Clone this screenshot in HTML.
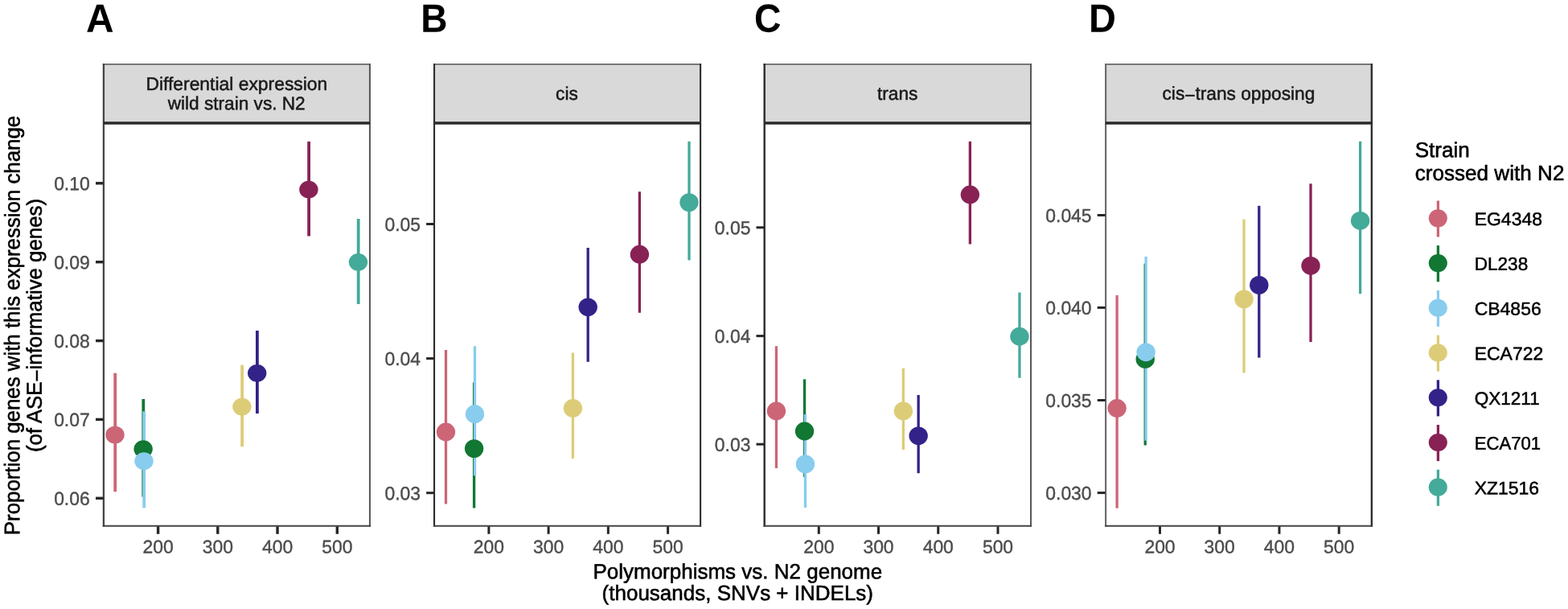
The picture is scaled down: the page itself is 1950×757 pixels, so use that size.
<!DOCTYPE html>
<html lang="en"><head><meta charset="utf-8"><title>Expression change vs. polymorphisms</title>
<style>
html,body{margin:0;padding:0;background:#fff;}
body{width:1950px;height:757px;overflow:hidden;}
svg{display:block;}
text{font-family:"Liberation Sans", sans-serif;text-rendering:geometricPrecision;}
.tick{font-size:22.9px;fill:#4d4d4d;stroke:#4d4d4d;stroke-width:0.4px;}
.strip{font-size:22.7px;fill:#1a1a1a;stroke:#1a1a1a;stroke-width:0.5px;text-anchor:middle;}
.ttl{font-size:26.0px;fill:#000;stroke:#000;stroke-width:0.55px;}
.leg{font-size:22.7px;fill:#000;stroke:#000;stroke-width:0.5px;}
.tag{font-size:49.3px;font-weight:bold;fill:#000;}
</style></head><body>
<svg width="1950" height="757" viewBox="0 0 1950 757">
<rect x="0" y="0" width="1950" height="757" fill="#ffffff"/>
<g>
<text class="tag" transform="translate(107.07 39.8) rotate(0.03) scale(0.9716 1)">A</text>
<rect x="128.9" y="79.9" width="331.05" height="73" fill="#d9d9d9"/>
<line x1="127.75" y1="79.9" x2="460.97" y2="79.9" stroke="#686868" stroke-width="1.9"/>
<text class="strip" transform="translate(294.35 112) rotate(0.03) scale(1.008 1.01)">Differential expression</text>
<text class="strip" transform="translate(294.2 136.15) rotate(0.03) scale(0.997 1.01)">wild strain vs. N2</text>
<line x1="143.2" y1="463.8" x2="143.2" y2="611.2" stroke="#CC6677" stroke-width="3.8"/>
<line x1="178.3" y1="496" x2="178.3" y2="617.5" stroke="#117733" stroke-width="3.8"/>
<line x1="179.2" y1="511.3" x2="179.2" y2="631.3" stroke="#88CCEE" stroke-width="3.8"/>
<line x1="301.1" y1="453.7" x2="301.1" y2="555.2" stroke="#DDCC77" stroke-width="3.8"/>
<line x1="319.9" y1="411" x2="319.9" y2="514" stroke="#332288" stroke-width="3.8"/>
<line x1="384.1" y1="175.9" x2="384.1" y2="293.5" stroke="#882255" stroke-width="3.8"/>
<line x1="445.7" y1="272" x2="445.7" y2="378" stroke="#44AA99" stroke-width="3.8"/>
<ellipse cx="143" cy="540.5" rx="11.7" ry="10.85" fill="#CC6677"/>
<ellipse cx="178.1" cy="558.2" rx="11.7" ry="10.85" fill="#117733"/>
<ellipse cx="179" cy="573.2" rx="11.7" ry="10.85" fill="#88CCEE"/>
<ellipse cx="300.9" cy="505.6" rx="11.7" ry="10.85" fill="#DDCC77"/>
<ellipse cx="319.7" cy="463.8" rx="11.7" ry="10.85" fill="#332288"/>
<ellipse cx="383.9" cy="235.7" rx="11.7" ry="10.85" fill="#882255"/>
<ellipse cx="445.5" cy="325.8" rx="11.7" ry="10.85" fill="#44AA99"/>
<line x1="128.9" y1="78.95" x2="128.9" y2="654.7" stroke="#444444" stroke-width="2.3"/>
<line x1="459.95" y1="78.95" x2="459.95" y2="654.7" stroke="#585858" stroke-width="2.05"/>
<line x1="127.75" y1="653.7" x2="460.97" y2="653.7" stroke="#444444" stroke-width="2"/>
<line x1="128.6" y1="152.9" x2="460.25" y2="152.9" stroke="#2a2a2a" stroke-width="3.5"/>
<line x1="119" y1="227.8" x2="128.4" y2="227.8" stroke="#262626" stroke-width="3.4"/>
<text class="tick" text-anchor="end" transform="translate(111.7 236.25) rotate(0.03) scale(1 1.015)">0.10</text>
<line x1="119" y1="325.7" x2="128.4" y2="325.7" stroke="#262626" stroke-width="3.4"/>
<text class="tick" text-anchor="end" transform="translate(111.7 334.15) rotate(0.03) scale(1 1.015)">0.09</text>
<line x1="119" y1="423.6" x2="128.4" y2="423.6" stroke="#262626" stroke-width="3.4"/>
<text class="tick" text-anchor="end" transform="translate(111.7 432.05) rotate(0.03) scale(1 1.015)">0.08</text>
<line x1="119" y1="521.4" x2="128.4" y2="521.4" stroke="#262626" stroke-width="3.4"/>
<text class="tick" text-anchor="end" transform="translate(111.7 529.85) rotate(0.03) scale(1 1.015)">0.07</text>
<line x1="119" y1="619.3" x2="128.4" y2="619.3" stroke="#262626" stroke-width="3.4"/>
<text class="tick" text-anchor="end" transform="translate(111.7 627.75) rotate(0.03) scale(1 1.015)">0.06</text>
<line x1="196.6" y1="654.4" x2="196.6" y2="663.8" stroke="#262626" stroke-width="3.4"/>
<text class="tick" text-anchor="middle" transform="translate(196.6 687.4) rotate(0.03) scale(1 1)">200</text>
<line x1="270.8" y1="654.4" x2="270.8" y2="663.8" stroke="#262626" stroke-width="3.4"/>
<text class="tick" text-anchor="middle" transform="translate(270.8 687.4) rotate(0.03) scale(1 1)">300</text>
<line x1="345.05" y1="654.4" x2="345.05" y2="663.8" stroke="#262626" stroke-width="3.4"/>
<text class="tick" text-anchor="middle" transform="translate(345.05 687.4) rotate(0.03) scale(1 1)">400</text>
<line x1="419.3" y1="654.4" x2="419.3" y2="663.8" stroke="#262626" stroke-width="3.4"/>
<text class="tick" text-anchor="middle" transform="translate(419.3 687.4) rotate(0.03) scale(1 1)">500</text>
</g>
<g>
<text class="tag" transform="translate(523.16 39.8) rotate(0.03) scale(0.9338 1)">B</text>
<rect x="540.05" y="79.9" width="331.05" height="73" fill="#d9d9d9"/>
<line x1="539" y1="79.9" x2="872.15" y2="79.9" stroke="#686868" stroke-width="1.9"/>
<text class="strip" transform="translate(704.95 123.9) rotate(0.03) scale(1 1.01)">cis</text>
<line x1="554.5" y1="435" x2="554.5" y2="626.6" stroke="#CC6677" stroke-width="3.3"/>
<line x1="589.6" y1="475.5" x2="589.6" y2="631.5" stroke="#117733" stroke-width="3.3"/>
<line x1="590.5" y1="430.2" x2="590.5" y2="591.3" stroke="#88CCEE" stroke-width="3.3"/>
<line x1="712.4" y1="438.5" x2="712.4" y2="570" stroke="#DDCC77" stroke-width="3.3"/>
<line x1="731.2" y1="308" x2="731.2" y2="449.8" stroke="#332288" stroke-width="3.3"/>
<line x1="795.4" y1="238.3" x2="795.4" y2="388.7" stroke="#882255" stroke-width="3.3"/>
<line x1="857" y1="175.8" x2="857" y2="323.4" stroke="#44AA99" stroke-width="3.3"/>
<ellipse cx="554.5" cy="537" rx="11.7" ry="11.4" fill="#CC6677"/>
<ellipse cx="589.6" cy="557.6" rx="11.7" ry="11.4" fill="#117733"/>
<ellipse cx="590.5" cy="514.7" rx="11.7" ry="11.4" fill="#88CCEE"/>
<ellipse cx="712.4" cy="507.5" rx="11.7" ry="11.4" fill="#DDCC77"/>
<ellipse cx="731.2" cy="381.8" rx="11.7" ry="11.4" fill="#332288"/>
<ellipse cx="795.4" cy="316.2" rx="11.7" ry="11.4" fill="#882255"/>
<ellipse cx="857" cy="251.6" rx="11.7" ry="11.4" fill="#44AA99"/>
<line x1="540.05" y1="78.95" x2="540.05" y2="654.7" stroke="#2c2c2c" stroke-width="2.1"/>
<line x1="871.1" y1="78.95" x2="871.1" y2="654.7" stroke="#2e2e2e" stroke-width="2.1"/>
<line x1="539" y1="653.7" x2="872.15" y2="653.7" stroke="#444444" stroke-width="2"/>
<line x1="539.75" y1="152.9" x2="871.4" y2="152.9" stroke="#2a2a2a" stroke-width="3.5"/>
<line x1="530.1" y1="278.5" x2="539.55" y2="278.5" stroke="#262626" stroke-width="3.0"/>
<text class="tick" text-anchor="end" transform="translate(523 286.95) rotate(0.03) scale(1 1.015)">0.05</text>
<line x1="530.1" y1="445.6" x2="539.55" y2="445.6" stroke="#262626" stroke-width="3.0"/>
<text class="tick" text-anchor="end" transform="translate(523 454.05) rotate(0.03) scale(1 1.015)">0.04</text>
<line x1="530.1" y1="612.7" x2="539.55" y2="612.7" stroke="#262626" stroke-width="3.0"/>
<text class="tick" text-anchor="end" transform="translate(523 621.15) rotate(0.03) scale(1 1.015)">0.03</text>
<line x1="607.9" y1="654.4" x2="607.9" y2="663.8" stroke="#262626" stroke-width="3.0"/>
<text class="tick" text-anchor="middle" transform="translate(607.9 687.4) rotate(0.03) scale(1 1)">200</text>
<line x1="682.1" y1="654.4" x2="682.1" y2="663.8" stroke="#262626" stroke-width="3.0"/>
<text class="tick" text-anchor="middle" transform="translate(682.1 687.4) rotate(0.03) scale(1 1)">300</text>
<line x1="756.35" y1="654.4" x2="756.35" y2="663.8" stroke="#262626" stroke-width="3.0"/>
<text class="tick" text-anchor="middle" transform="translate(756.35 687.4) rotate(0.03) scale(1 1)">400</text>
<line x1="830.6" y1="654.4" x2="830.6" y2="663.8" stroke="#262626" stroke-width="3.0"/>
<text class="tick" text-anchor="middle" transform="translate(830.6 687.4) rotate(0.03) scale(1 1)">500</text>
</g>
<g>
<text class="tag" transform="translate(938.04 39.8) rotate(0.03) scale(0.94 1)">C</text>
<rect x="950.7" y="79.9" width="331.3" height="73" fill="#d9d9d9"/>
<line x1="949.5" y1="79.9" x2="1283" y2="79.9" stroke="#686868" stroke-width="1.9"/>
<text class="strip" transform="translate(1116.2 123.9) rotate(0.03) scale(1 1.01)">trans</text>
<line x1="965.45" y1="430.2" x2="965.45" y2="582" stroke="#CC6677" stroke-width="3.3"/>
<line x1="1000.55" y1="471.4" x2="1000.55" y2="593" stroke="#117733" stroke-width="3.3"/>
<line x1="1001.45" y1="515" x2="1001.45" y2="631.1" stroke="#88CCEE" stroke-width="3.3"/>
<line x1="1123.35" y1="457.7" x2="1123.35" y2="559" stroke="#DDCC77" stroke-width="3.3"/>
<line x1="1142.15" y1="491" x2="1142.15" y2="588.2" stroke="#332288" stroke-width="3.3"/>
<line x1="1206.35" y1="175.8" x2="1206.35" y2="303.5" stroke="#882255" stroke-width="3.3"/>
<line x1="1267.95" y1="363.6" x2="1267.95" y2="469.7" stroke="#44AA99" stroke-width="3.3"/>
<ellipse cx="965.45" cy="510.9" rx="11.7" ry="11.4" fill="#CC6677"/>
<ellipse cx="1000.55" cy="536" rx="11.7" ry="11.4" fill="#117733"/>
<ellipse cx="1001.45" cy="576.9" rx="11.7" ry="11.4" fill="#88CCEE"/>
<ellipse cx="1123.35" cy="510.9" rx="11.7" ry="11.4" fill="#DDCC77"/>
<ellipse cx="1142.15" cy="541.8" rx="11.7" ry="11.4" fill="#332288"/>
<ellipse cx="1206.35" cy="242" rx="11.7" ry="11.4" fill="#882255"/>
<ellipse cx="1267.95" cy="418.2" rx="11.7" ry="11.4" fill="#44AA99"/>
<line x1="950.7" y1="78.95" x2="950.7" y2="654.7" stroke="#2a2a2a" stroke-width="2.4"/>
<line x1="1282" y1="78.95" x2="1282" y2="654.7" stroke="#585858" stroke-width="2.0"/>
<line x1="949.5" y1="653.7" x2="1283" y2="653.7" stroke="#444444" stroke-width="2"/>
<line x1="950.4" y1="152.9" x2="1282.3" y2="152.9" stroke="#2a2a2a" stroke-width="3.5"/>
<line x1="940.5" y1="282.8" x2="950.2" y2="282.8" stroke="#262626" stroke-width="3.0"/>
<text class="tick" text-anchor="end" transform="translate(933.4 291.25) rotate(0.03) scale(1 1.015)">0.05</text>
<line x1="940.5" y1="417.6" x2="950.2" y2="417.6" stroke="#262626" stroke-width="3.0"/>
<text class="tick" text-anchor="end" transform="translate(933.4 426.05) rotate(0.03) scale(1 1.015)">0.04</text>
<line x1="940.5" y1="552.2" x2="950.2" y2="552.2" stroke="#262626" stroke-width="3.0"/>
<text class="tick" text-anchor="end" transform="translate(933.4 560.65) rotate(0.03) scale(1 1.015)">0.03</text>
<line x1="1018.3" y1="654.4" x2="1018.3" y2="663.8" stroke="#262626" stroke-width="3.0"/>
<text class="tick" text-anchor="middle" transform="translate(1018.3 687.4) rotate(0.03) scale(1 1)">200</text>
<line x1="1092.5" y1="654.4" x2="1092.5" y2="663.8" stroke="#262626" stroke-width="3.0"/>
<text class="tick" text-anchor="middle" transform="translate(1092.5 687.4) rotate(0.03) scale(1 1)">300</text>
<line x1="1166.75" y1="654.4" x2="1166.75" y2="663.8" stroke="#262626" stroke-width="3.0"/>
<text class="tick" text-anchor="middle" transform="translate(1166.75 687.4) rotate(0.03) scale(1 1)">400</text>
<line x1="1241" y1="654.4" x2="1241" y2="663.8" stroke="#262626" stroke-width="3.0"/>
<text class="tick" text-anchor="middle" transform="translate(1241 687.4) rotate(0.03) scale(1 1)">500</text>
</g>
<g>
<text class="tag" transform="translate(1353.95 39.8) rotate(0.03) scale(0.9508 1)">D</text>
<rect x="1375.1" y="79.9" width="330.75" height="73" fill="#d9d9d9"/>
<line x1="1374.05" y1="79.9" x2="1707.05" y2="79.9" stroke="#686868" stroke-width="1.9"/>
<text class="strip" transform="translate(1540.4 123.9) rotate(0.03) scale(1 1.01)">cis<tspan dy="2.5">−</tspan><tspan dy="-2.5">trans opposing</tspan></text>
<line x1="1389.1" y1="367.1" x2="1389.1" y2="631.8" stroke="#CC6677" stroke-width="3.3"/>
<line x1="1424.2" y1="327.6" x2="1424.2" y2="553.5" stroke="#117733" stroke-width="3.3"/>
<line x1="1425.1" y1="319" x2="1425.1" y2="547.7" stroke="#88CCEE" stroke-width="3.3"/>
<line x1="1547" y1="272.6" x2="1547" y2="463.5" stroke="#DDCC77" stroke-width="3.3"/>
<line x1="1565.8" y1="255.8" x2="1565.8" y2="444.6" stroke="#332288" stroke-width="3.3"/>
<line x1="1630" y1="228.3" x2="1630" y2="425.1" stroke="#882255" stroke-width="3.3"/>
<line x1="1691.6" y1="175.8" x2="1691.6" y2="365.3" stroke="#44AA99" stroke-width="3.3"/>
<ellipse cx="1389.1" cy="507.5" rx="11.7" ry="11.4" fill="#CC6677"/>
<ellipse cx="1424.2" cy="446.4" rx="11.7" ry="11.4" fill="#117733"/>
<ellipse cx="1425.1" cy="437.8" rx="11.7" ry="11.4" fill="#88CCEE"/>
<ellipse cx="1547" cy="371.9" rx="11.7" ry="11.4" fill="#DDCC77"/>
<ellipse cx="1565.8" cy="354.4" rx="11.7" ry="11.4" fill="#332288"/>
<ellipse cx="1630" cy="330.3" rx="11.7" ry="11.4" fill="#882255"/>
<ellipse cx="1691.6" cy="274.3" rx="11.7" ry="11.4" fill="#44AA99"/>
<line x1="1375.1" y1="78.95" x2="1375.1" y2="654.7" stroke="#686868" stroke-width="2.1"/>
<line x1="1705.85" y1="78.95" x2="1705.85" y2="654.7" stroke="#2e2e2e" stroke-width="2.4"/>
<line x1="1374.05" y1="653.7" x2="1707.05" y2="653.7" stroke="#444444" stroke-width="2"/>
<line x1="1374.8" y1="152.9" x2="1706.15" y2="152.9" stroke="#2a2a2a" stroke-width="3.5"/>
<line x1="1364.7" y1="267.5" x2="1374.6" y2="267.5" stroke="#262626" stroke-width="3.0"/>
<text class="tick" text-anchor="end" transform="translate(1357.6 275.95) rotate(0.03) scale(1 1.015)">0.045</text>
<line x1="1364.7" y1="382.4" x2="1374.6" y2="382.4" stroke="#262626" stroke-width="3.0"/>
<text class="tick" text-anchor="end" transform="translate(1357.6 390.85) rotate(0.03) scale(1 1.015)">0.040</text>
<line x1="1364.7" y1="497.5" x2="1374.6" y2="497.5" stroke="#262626" stroke-width="3.0"/>
<text class="tick" text-anchor="end" transform="translate(1357.6 505.95) rotate(0.03) scale(1 1.015)">0.035</text>
<line x1="1364.7" y1="612.6" x2="1374.6" y2="612.6" stroke="#262626" stroke-width="3.0"/>
<text class="tick" text-anchor="end" transform="translate(1357.6 621.05) rotate(0.03) scale(1 1.015)">0.030</text>
<line x1="1442.5" y1="654.4" x2="1442.5" y2="663.8" stroke="#262626" stroke-width="3.0"/>
<text class="tick" text-anchor="middle" transform="translate(1442.5 687.4) rotate(0.03) scale(1 1)">200</text>
<line x1="1516.7" y1="654.4" x2="1516.7" y2="663.8" stroke="#262626" stroke-width="3.0"/>
<text class="tick" text-anchor="middle" transform="translate(1516.7 687.4) rotate(0.03) scale(1 1)">300</text>
<line x1="1590.95" y1="654.4" x2="1590.95" y2="663.8" stroke="#262626" stroke-width="3.0"/>
<text class="tick" text-anchor="middle" transform="translate(1590.95 687.4) rotate(0.03) scale(1 1)">400</text>
<line x1="1665.2" y1="654.4" x2="1665.2" y2="663.8" stroke="#262626" stroke-width="3.0"/>
<text class="tick" text-anchor="middle" transform="translate(1665.2 687.4) rotate(0.03) scale(1 1)">500</text>
</g>
<text class="ttl" text-anchor="middle" transform="translate(24.35 404.5) rotate(-89.97) scale(0.9937 1.03)">Proportion genes with this expression change</text>
<text class="ttl" text-anchor="middle" transform="translate(51.8 404.5) rotate(-89.97) scale(0.9937 1.02)">(of ASE<tspan dy="2.8">−</tspan><tspan dy="-2.8">informative genes)</tspan></text>
<text class="ttl" text-anchor="middle" transform="translate(917.3 719.3) rotate(0.03) scale(1 1.01)">Polymorphisms vs. N2 genome</text>
<text class="ttl" text-anchor="middle" transform="translate(917.3 746) rotate(0.03) scale(1 1.01)">(thousands, SNVs + INDELs)</text>
<text class="ttl" transform="translate(1759.7 195.3) rotate(0.03) scale(1.004 1.01)">Strain</text>
<text class="ttl" transform="translate(1759.7 224) rotate(0.03) scale(1.004 1.01)">crossed with N2</text>
<line x1="1788.4" y1="249.45" x2="1788.4" y2="294.55" stroke="#CC6677" stroke-width="3.3"/>
<ellipse cx="1788.3" cy="271.35" rx="11.55" ry="11.05" fill="#CC6677"/>
<text class="leg" transform="translate(1833.7 280.05) rotate(0.03) scale(1.012 1)">EG4348</text>
<line x1="1788.4" y1="305.17" x2="1788.4" y2="350.27" stroke="#117733" stroke-width="3.3"/>
<ellipse cx="1788.3" cy="327.07" rx="11.55" ry="11.05" fill="#117733"/>
<text class="leg" transform="translate(1833.7 335.77) rotate(0.03) scale(0.995 1)">DL238</text>
<line x1="1788.4" y1="360.89" x2="1788.4" y2="405.99" stroke="#88CCEE" stroke-width="3.3"/>
<ellipse cx="1788.3" cy="382.79" rx="11.55" ry="11.05" fill="#88CCEE"/>
<text class="leg" transform="translate(1833.7 391.49) rotate(0.03) scale(1.012 1)">CB4856</text>
<line x1="1788.4" y1="416.61" x2="1788.4" y2="461.71" stroke="#DDCC77" stroke-width="3.3"/>
<ellipse cx="1788.3" cy="438.51" rx="11.55" ry="11.05" fill="#DDCC77"/>
<text class="leg" transform="translate(1833.7 447.21) rotate(0.03) scale(1.012 1)">ECA722</text>
<line x1="1788.4" y1="472.33" x2="1788.4" y2="517.43" stroke="#332288" stroke-width="3.3"/>
<ellipse cx="1788.3" cy="494.23" rx="11.55" ry="11.05" fill="#332288"/>
<text class="leg" transform="translate(1833.7 502.93) rotate(0.03) scale(0.994 1)">QX1211</text>
<line x1="1788.4" y1="528.05" x2="1788.4" y2="573.15" stroke="#882255" stroke-width="3.3"/>
<ellipse cx="1788.3" cy="549.95" rx="11.55" ry="11.05" fill="#882255"/>
<text class="leg" transform="translate(1833.7 558.65) rotate(0.03) scale(0.975 1)">ECA701</text>
<line x1="1788.4" y1="583.77" x2="1788.4" y2="628.87" stroke="#44AA99" stroke-width="3.3"/>
<ellipse cx="1788.3" cy="605.67" rx="11.55" ry="11.05" fill="#44AA99"/>
<text class="leg" transform="translate(1833.7 614.37) rotate(0.03) scale(1.012 1)">XZ1516</text>
</svg>
</body></html>
